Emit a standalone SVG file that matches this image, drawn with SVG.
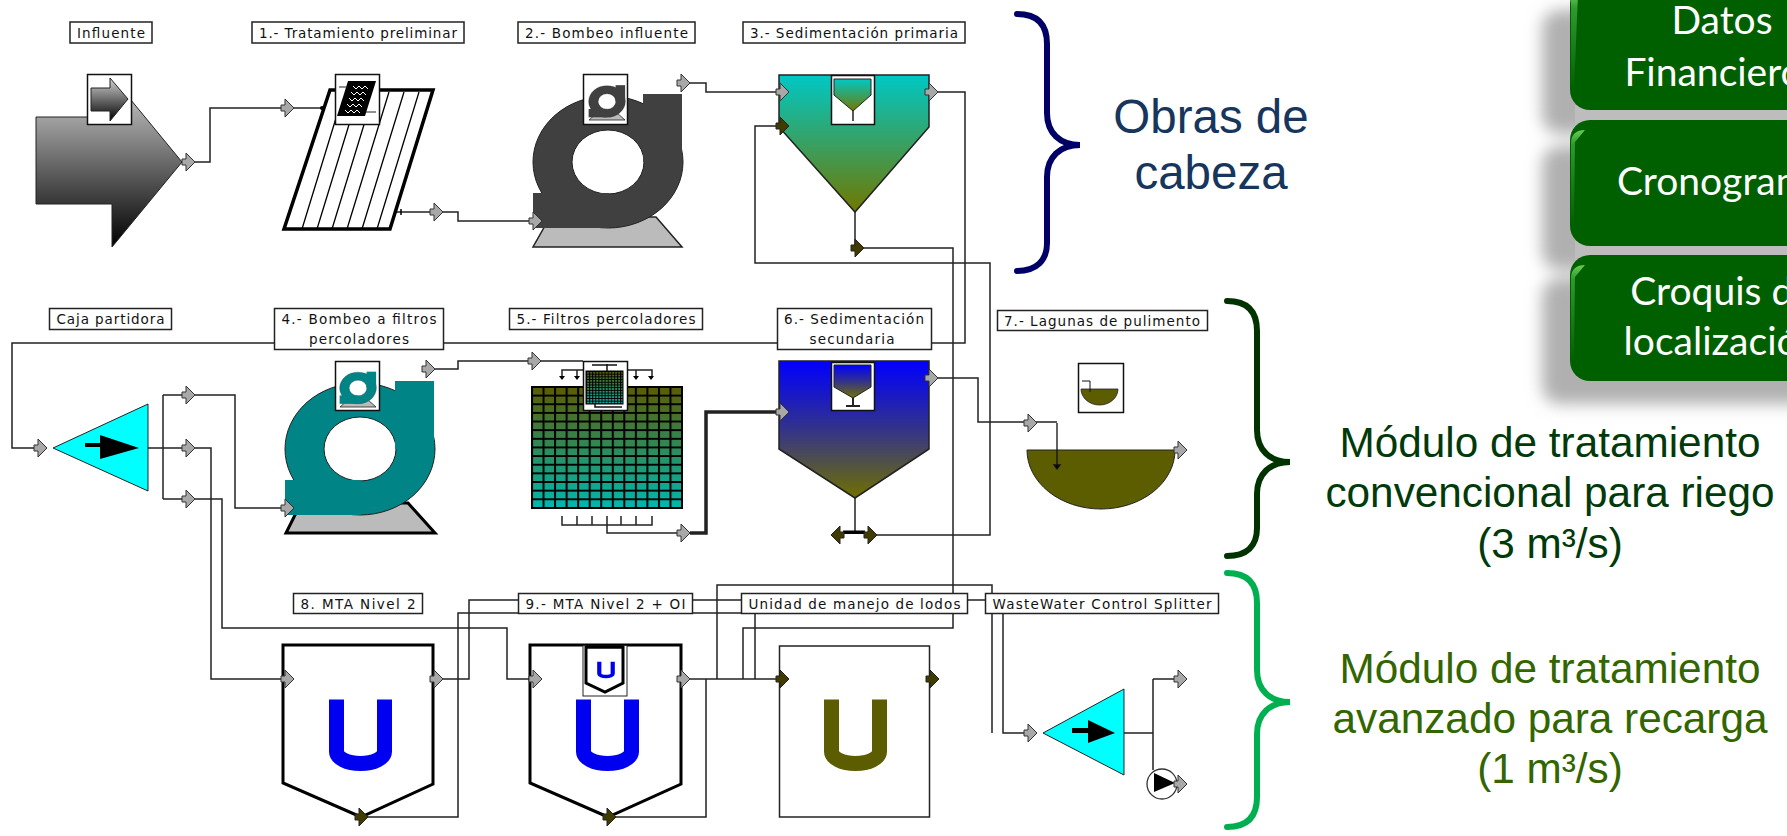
<svg xmlns="http://www.w3.org/2000/svg" xmlns:xlink="http://www.w3.org/1999/xlink" width="1787" height="836" viewBox="0 0 1787 836">
<style>
text{font-family:"Liberation Sans",Arial,sans-serif}
.lb rect{fill:#fff;stroke:#222;stroke-width:1.5}
.lb text{font-family:"DejaVu Sans",sans-serif;font-size:13.5px;fill:#111;text-anchor:middle}
.wire{fill:none;stroke:#222;stroke-width:1.5}
.po{fill:#a8a8a8;stroke:#333;stroke-width:1}
.pd{fill:#403c00;stroke:#222;stroke-width:1}
.ic{fill:#fff;stroke:#111;stroke-width:1.5}
.big{font-size:42.3px;text-anchor:middle}
.gb{fill:#006000}
.gt{font-family:Lato,"Open Sans",sans-serif;font-size:39px;fill:#fff;text-anchor:middle}
.br{fill:none;stroke-width:6;stroke-linecap:round}
</style>
<defs>
<linearGradient id="gInf" x1="0" y1="0" x2="0" y2="1"><stop offset="0" stop-color="#d4d4d4"/><stop offset="1" stop-color="#000"/></linearGradient>
<linearGradient id="gSed1" x1="0" y1="0" x2="0" y2="1"><stop offset="0" stop-color="#00c8c4"/><stop offset="1" stop-color="#707800"/></linearGradient>
<linearGradient id="gSed2" x1="0" y1="0" x2="0" y2="1"><stop offset="0" stop-color="#0000ff"/><stop offset=".5" stop-color="#33338a"/><stop offset="1" stop-color="#707000"/></linearGradient>
<linearGradient id="gFil" x1="0" y1="0" x2="0" y2="1"><stop offset="0" stop-color="#5c5c00"/><stop offset="1" stop-color="#00b8b0"/></linearGradient>
<linearGradient id="gHi" x1="0" y1="0" x2="0" y2="1"><stop offset="0" stop-color="#66cc55"/><stop offset=".15" stop-color="#2e9a2e"/><stop offset="1" stop-color="#006000"/></linearGradient>
<pattern id="grid" patternUnits="userSpaceOnUse" width="11.54" height="8.64" x="531" y="386"><path d="M0 1H11.54M1 0V8.64" stroke="#000" stroke-width="2" fill="none"/></pattern>
<pattern id="gridS" patternUnits="userSpaceOnUse" width="3.1" height="2.7" x="586" y="371"><path d="M0 .5H3.1M.5 0V2.7" stroke="#000" stroke-width="1" fill="none"/></pattern>
<filter id="blur" x="-20%" y="-20%" width="140%" height="140%"><feGaussianBlur stdDeviation="8"/></filter>
<path id="p" d="M-13-3h4v-6l9 9-9 9v-6h-4z"/>
<path id="pl" d="M13-3h-4v-6l-9 9 9 9v-6h4z"/>
<g id="pumpBody">
<path fill-rule="evenodd" stroke="#222" stroke-width="1" d="M-75 0A75 66 0 1 1 75 0A75 66 0 1 1-75 0ZM-36 0A36 32 0 1 0 36 0A36 32 0 1 0-36 0Z"/>
<rect x="35" y="-68" width="39" height="68"/>
<rect x="-75" y="31" width="76" height="35"/>
</g>
<path id="U" d="M-24 -40V12A24 12 0 0 0 24 12V-40" fill="none" stroke-width="15"/>
<path id="fun1" d="M0 0H37V16L19 32L0 16Z"/>
</defs>

<rect width="1787" height="836" fill="#fff"/>

<g id="connectors">
<path class="wire" d="M195 162H210V108H294"/>
<path class="wire" d="M323 108H294"/>
<path class="wire" d="M390 212H458V221H542"/>
<path class="wire" d="M690 83H706V92H788"/>
<path class="wire" d="M938 92H965V343H12V448H47"/>
<path class="wire" d="M864 248H953V628H743V679"/>
<path class="wire" d="M877 535H990V263H755V126H789"/>
<path class="wire" d="M855 212V248"/>
<path class="wire" d="M855 498V532"/>
<path class="wire" d="M435 369H458V361H583"/>
<path class="wire" d="M607 525V533H690"/>
<path class="wire" style="stroke-width:3.5" d="M690 533H706V412H789"/>
<path class="wire" d="M938 378H978V422H1057"/>
<path class="wire" d="M148 448H195M163 395V499M163 395H195H235V508H294"/>
<path class="wire" d="M195 448H211V679H294"/>
<path class="wire" d="M163 499H222V628H507V679H542"/>
<path class="wire" d="M443 679H469V600H1003V733H1037"/>
<path class="wire" d="M690 679H789"/>
<path class="wire" d="M717 679V585H992V733"/>
<path class="wire" d="M368 817H458V613H755V679"/>
<path class="wire" d="M616 817H706V679"/>
<path class="wire" d="M1124 733H1153M1153 679V770M1153 679H1187"/>
</g>

<g id="influente">
<path d="M36 117H112V77L182 162L112 247V204H36Z" fill="url(#gInf)" stroke="#222" stroke-width="1"/>
<rect class="ic" x="87.500" y="74.500" width="44" height="50"/>
<path d="M91 88H110V78L128 99L110 121V111H91Z" fill="url(#gInf)" stroke="#222" stroke-width="1"/>
<use href="#p" x="195" y="162" class="po"/>
<g class="lb"><rect x="70" y="22" width="82" height="21"/><text x="111" y="37.500" textLength="68">Influente</text></g>
</g>

<g id="tratamiento-preliminar">
<path d="M330 90H433L390 229H284Z" fill="#fff" stroke="#000" stroke-width="3.500"/>
<path d="M302 229L344 92M317 229L359 92M332 229L374 92M347 229L389 92M362 229L404 92M377 229L419 92" stroke="#000" stroke-width="1.300" fill="none"/>
<circle cx="322" cy="108" r="2" fill="#000"/>
<path d="M401 209V215" stroke="#000" stroke-width="1.500"/>
<rect class="ic" x="335.500" y="74.500" width="44" height="50"/>
<path d="M348 81H376L365 116H337Z" fill="#000"/>
<path d="M353 86l3 3 3-3 3 3 3-3 3 3M351 92l3 3 3-3 3 3 3-3 3 3M349 98l3 3 3-3 3 3 3-3 3 3M347 104l3 3 3-3 3 3 3-3 3 3M345 110l3 3 3-3 3 3 3-3 3 3" stroke="#fff" stroke-width="1" fill="none"/>
<path d="M339 87H348M366 112H376" stroke="#222" stroke-width="1"/>
<use href="#p" x="294" y="108" class="po"/>
<use href="#p" x="443" y="212" class="po"/>
<g class="lb"><rect x="252" y="22" width="212" height="21"/><text x="358" y="37.500" textLength="198">1.- Tratamiento preliminar</text></g>
</g>

<g id="bombeo-influente">
<path d="M533 247H682L656 217H550Z" fill="#bbb" stroke="#222" stroke-width="1.500"/>
<use href="#pumpBody" transform="translate(608 162)" fill="#404040"/>
<rect class="ic" x="583.500" y="74.500" width="44" height="50"/>
<path d="M589 120H625L616 112H598Z" fill="#bbb" stroke="#222" stroke-width=".8"/>
<use href="#pumpBody" transform="translate(607 101.500) scale(.245 .24)" fill="#404040"/>
<use href="#p" x="542" y="221" class="po"/>
<use href="#p" x="690" y="83" class="po"/>
<g class="lb"><rect x="518" y="22" width="177" height="21"/><text x="606.500" y="37.500" textLength="163">2.- Bombeo influente</text></g>
</g>

<g id="sedimentacion-primaria">
<path d="M779 75H929V127L855 212L779 127Z" fill="url(#gSed1)" stroke="#222" stroke-width="1.500"/>
<rect class="ic" x="831.500" y="75.500" width="43" height="49"/>
<use href="#fun1" transform="translate(834 79)" fill="url(#gSed1)" stroke="#222" stroke-width="1"/>
<path d="M853 110V121" stroke="#222" stroke-width="1.500"/>
<use href="#p" x="789" y="92" class="po"/>
<use href="#p" x="789" y="126" class="pd"/>
<use href="#p" x="938" y="92" class="po"/>
<use href="#p" x="864" y="248" class="pd"/>
<g class="lb"><rect x="743" y="22" width="222" height="21"/><text x="854" y="37.500" textLength="208">3.- Sedimentación primaria</text></g>
</g>

<g id="caja-partidora">
<path d="M53 448L148 404V491Z" fill="#0ff" stroke="#222" stroke-width="1"/>
<path d="M85 443H100V435L139 448L100 459V447H85Z" fill="#000"/>
<use href="#p" x="47" y="448" class="po"/>
<use href="#p" x="195" y="395" class="po"/>
<use href="#p" x="195" y="448" class="po"/>
<use href="#p" x="195" y="499" class="po"/>
<g class="lb"><rect x="49.500" y="308.500" width="122" height="21"/><text x="110.500" y="324" textLength="108">Caja partidora</text></g>
</g>

<g id="bombeo-filtros">
<path d="M286 533H435L408 503H301Z" fill="#bbb" stroke="#000" stroke-width="3"/>
<use href="#pumpBody" transform="translate(360 449)" fill="#008486"/>
<rect class="ic" x="335.500" y="361.500" width="44" height="49"/>
<path d="M340 407H376L367 399H349Z" fill="#bbb" stroke="#222" stroke-width=".8"/>
<use href="#pumpBody" transform="translate(358 388) scale(.245 .24)" fill="#008486"/>
<use href="#p" x="294" y="508" class="po"/>
<use href="#p" x="435" y="369" class="po"/>
<g class="lb"><rect x="274.500" y="308.500" width="169" height="41"/><text x="359" y="324" textLength="155">4.- Bombeo a filtros</text><text x="359" y="344" textLength="100">percoladores</text></g>
</g>

<g id="filtros-percoladores">
<rect x="532" y="387" width="150" height="121" fill="url(#gFil)"/>
<rect x="532" y="387" width="150" height="121" fill="url(#grid)" stroke="#000" stroke-width="2"/>
<path d="M562 378V370H583M577 370V378M627 370H652V378M636 370V378M562 516V525H652V516M577 516V525M592 516V525M607 516V525M621 516V525M636 516V525" fill="none" stroke="#222" stroke-width="1.500"/>
<path d="M559 376h6l-3 4zM574 376h6l-3 4zM633 376h6l-3 4zM648 376h6l-3 4z" fill="#000"/>
<rect class="ic" x="583.500" y="361.500" width="44" height="49"/>
<rect x="586" y="371" width="37" height="33" fill="url(#gFil)"/>
<rect x="586" y="371" width="37" height="33" fill="url(#gridS)" stroke="#000" stroke-width="1"/>
<path d="M592 365H617M607 364V371M595 404V407H622" stroke="#111" stroke-width="1.500" fill="none"/>
<use href="#p" x="541" y="361" class="po"/>
<use href="#p" x="690" y="533" class="po"/>
<g class="lb"><rect x="509.500" y="308.500" width="193" height="21"/><text x="606" y="324" textLength="179">5.- Filtros percoladores</text></g>
</g>

<g id="sedimentacion-secundaria">
<path d="M779 361H929V449L855 498L779 449Z" fill="url(#gSed2)" stroke="#222" stroke-width="1.500"/>
<rect x="831.500" y="362.500" width="43" height="48" fill="#fff" stroke="#111" stroke-width="1.500"/>
<path d="M834 365H871V387L853 398L834 387Z" fill="url(#gSed2)" stroke="#222" stroke-width="1"/>
<path d="M853 398V406M846 406H860" stroke="#222" stroke-width="2"/>
<rect x="843" y="530.500" width="22" height="3.500" fill="#000"/>
<use href="#pl" x="831" y="535" class="pd"/>
<use href="#p" x="789" y="412" class="po"/>
<use href="#p" x="938" y="378" class="po"/>
<use href="#p" x="877" y="535" class="pd"/>
<g class="lb"><rect x="777.500" y="308.500" width="154" height="41"/><text x="854" y="324" textLength="140">6.- Sedimentación</text><text x="852" y="344" textLength="85">secundaria</text></g>
</g>

<g id="lagunas-pulimento">
<path d="M1027 450H1175A74 59 0 0 1 1027 450Z" fill="#5c5c00" stroke="#222" stroke-width="1"/>
<path d="M1057 423V466M1054 465h6l-3 4z" stroke="#111" stroke-width="1.300" fill="#000"/>
<rect class="ic" x="1078.500" y="363.500" width="45" height="49"/>
<path d="M1081 389H1118A18.500 16 0 0 1 1081 389Z" fill="#5c5c00" stroke="#222" stroke-width=".8"/>
<path d="M1082 381H1090V392" fill="none" stroke="#111" stroke-width="1"/>
<use href="#p" x="1037" y="423" class="po"/>
<use href="#p" x="1187" y="450" class="po"/>
<g class="lb"><rect x="997.500" y="310.500" width="210" height="20"/><text x="1102" y="325.500" textLength="196">7.- Lagunas de pulimento</text></g>
</g>

<g id="mta-nivel-2">
<path d="M283 645H433V784L361 817L283 783Z" fill="#fff" stroke="#000" stroke-width="3"/>
<use href="#U" transform="translate(360.500 739.500)" stroke="#0000f0"/>
<use href="#p" x="294" y="679" class="po"/>
<use href="#p" x="443" y="679" class="po"/>
<use href="#p" x="368" y="817" class="pd"/>
<g class="lb"><rect x="293.500" y="593.500" width="129" height="20"/><text x="358" y="608.500" textLength="115">8. MTA Nivel 2</text></g>
</g>

<g id="mta-nivel-2-oi">
<path d="M530 645H681V784L608 817L530 783Z" fill="#fff" stroke="#000" stroke-width="3"/>
<use href="#U" transform="translate(607.500 739.500)" stroke="#0000f0"/>
<rect x="583" y="645.500" width="44" height="50.500" fill="#fff" stroke="#222" stroke-width="1"/>
<path d="M586 646V683L605 692L623 683V646" fill="none" stroke="#000" stroke-width="3"/>
<path d="M586 647H623" stroke="#000" stroke-width="3.500"/>
<use href="#U" transform="translate(606 671) scale(.28 .23)" stroke="#0000f0"/>
<use href="#p" x="542" y="679" class="po"/>
<use href="#p" x="690" y="679" class="po"/>
<use href="#p" x="616" y="817" class="pd"/>
<g class="lb"><rect x="518.500" y="593.500" width="174" height="20"/><text x="605.500" y="608.500" textLength="160">9.- MTA Nivel 2 + OI</text></g>
</g>

<g id="unidad-lodos">
<rect x="779.500" y="646" width="150" height="171" fill="#fff" stroke="#222" stroke-width="1.500"/>
<use href="#U" transform="translate(855.500 739.500)" stroke="#5c5c00"/>
<use href="#p" x="789" y="679" class="pd"/>
<use href="#p" x="939" y="679" class="pd"/>
<g class="lb"><rect x="741.500" y="593.500" width="226" height="20"/><text x="854.500" y="608.500" textLength="212">Unidad de manejo de lodos</text></g>
</g>

<g id="wastewater-splitter">
<path d="M1043 733L1124 689V775Z" fill="#0ff" stroke="#222" stroke-width="1"/>
<path d="M1072 728H1088V720L1115 733L1088 743V733H1072Z" fill="#000"/>
<circle cx="1162" cy="784" r="15" fill="#fff" stroke="#333" stroke-width="1.300"/>
<path d="M1154 773V792L1175 783Z" fill="#000"/>
<use href="#p" x="1037" y="733" class="po"/>
<use href="#p" x="1187" y="679" class="po"/>
<use href="#p" x="1187" y="784" class="po"/>
<g class="lb"><rect x="985.500" y="593.500" width="233" height="20"/><text x="1102" y="608.500" textLength="219">WasteWater Control Splitter</text></g>
</g>

<g id="grupos">
<path class="br" stroke="#000066" d="M1017 14C1037 14 1047 24 1047 44V113C1047 133 1060 145 1080 145C1060 145 1047 157 1047 177V243C1047 260 1037 271 1017 271"/>
<text x="1211" y="133" style="font-size:47.5px;text-anchor:middle" fill="#17365d">Obras de</text>
<text x="1211" y="189" style="font-size:47.5px;text-anchor:middle" fill="#17365d">cabeza</text>
<path class="br" stroke="#003300" d="M1227 301C1247 301 1257 311 1257 331V430C1257 450 1270 462 1290 462C1270 462 1257 474 1257 494V528C1257 546 1247 556 1227 556"/>
<text class="big" x="1550" y="457" fill="#003a0a">Módulo de tratamiento</text>
<text class="big" x="1550" y="507" fill="#003a0a">convencional para riego</text>
<text class="big" x="1550" y="558" fill="#003a0a">(3 m³/s)</text>
<path class="br" stroke="#00b050" d="M1227 573C1247 573 1257 583 1257 603V670C1257 690 1270 702 1290 702C1270 702 1257 714 1257 734V797C1257 817 1247 827 1227 827"/>
<text class="big" x="1550" y="683" fill="#336600">Módulo de tratamiento</text>
<text class="big" x="1550" y="733" fill="#336600">avanzado para recarga</text>
<text class="big" x="1550" y="783" fill="#336600">(1 m³/s)</text>
</g>

<g id="sombras" filter="url(#blur)" fill="#b0b0b0">
<rect x="1542" y="10" width="270" height="124" rx="18"/>
<rect x="1542" y="146" width="270" height="124" rx="18"/>
<rect x="1542" y="278" width="270" height="126" rx="18"/>
</g>
<rect x="1575" y="105" width="212" height="20" fill="#bdbdbd"/>
<rect x="1575" y="240" width="212" height="20" fill="#bdbdbd"/>

<g id="datos-financieros">
<rect class="gb" x="1570" y="-16" width="240" height="126" rx="20"/>
<path d="M1571 2Q1571 -8 1578 -6L1574 90L1571 85Z" fill="url(#gHi)"/>
<text class="gt" x="1722" y="34">Datos</text>
<text class="gt" x="1722" y="86">Financieros</text>
</g>
<g id="cronograma">
<rect class="gb" x="1570" y="120" width="240" height="126" rx="20"/>
<path d="M1571 142Q1572 130 1585 130L1575 142L1574 226L1571 222Z" fill="url(#gHi)"/>
<text class="gt" x="1722" y="195">Cronograma</text>
</g>
<g id="croquis">
<rect class="gb" x="1570" y="255" width="240" height="126" rx="20"/>
<path d="M1571 277Q1572 265 1585 265L1575 277L1574 361L1571 357Z" fill="url(#gHi)"/>
<text class="gt" x="1722" y="305">Croquis de</text>
<text class="gt" x="1722" y="355">localización</text>
</g>
</svg>
